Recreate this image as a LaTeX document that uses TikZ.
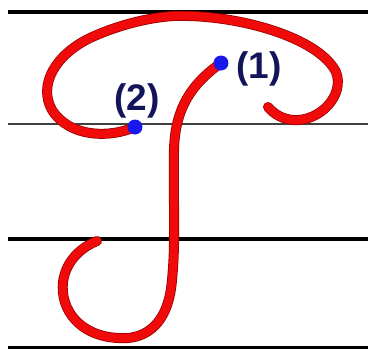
\documentclass[tikz,border=0pt]{standalone}
\usepackage{fontspec}
\setmainfont{Liberation Sans}
\usepackage{xcolor}
\definecolor{inkred}{RGB}{240,10,10}
\definecolor{inkedge}{RGB}{150,0,0}
\definecolor{dotblue}{RGB}{25,25,235}
\definecolor{labnavy}{RGB}{20,20,90}

\begin{document}
\begin{tikzpicture}[
	x=1pt, y=-1pt,
	guide/.style = {draw=black, line width=4.5pt},
	thin/.style  = {draw=black!75, line width=1.5pt},
	pen/.style   = {draw=inkred, line width=8.5pt, line cap=round,
	                preaction={draw=inkedge, line width=10pt, line cap=round}},
	dot/.style   = {circle, fill=dotblue, inner sep=0pt, minimum size=15pt},
	lab/.style   = {text=labnavy, font=\fontsize{37}{37}\selectfont\bfseries}
	]
	
	\useasboundingbox (0,0) rectangle (368,349);
	
	% === === Lines === ===
	\draw[guide]	(8,12)	--	(368,12);
	\draw[thin]		(8,124)	--	(368,124);
	\draw[guide]	(8,239)	--	(368,239);
	\draw[guide, line width=3pt]	(8,347)	--	(368,347);
	
	
	% === === Strokes === ===
	\coordinate	(s1)	at	(221, 63);
	\coordinate	(s2)	at	(135, 127);
	
	\draw[pen]	(s1)	.. controls (190,85) and (175,110) .. (174,150)
				.. controls (173,200) and (176,240) .. (172,280)
				.. controls (168,330) and (140,340) .. (118,338)
				.. controls (80,336) and (60,310) .. (63,282)
				.. controls (66,260) and (82,247) .. (97,241);
	
	\draw[pen]	(s2)	.. controls (110,138) and (70,138) .. (52,110)
				.. controls (38,85) and (55,55) .. (90,38)
				.. controls (120,24) and (160,14) .. (190,16)
				.. controls (250,18) and (320,40) .. (336,72)
				.. controls (345,95) and (320,122) .. (293,120)
				.. controls (282,119) and (274,114) .. (268,107);
	
	
	% === === Nodes === ===
	\node[dot]	(d1)	at	(s1)	{};
	\node[dot]	(d2)	at	(s2)	{};
	
	\node[lab]	(l1)	at	(259, 69)	{(1)};
	\node[lab]	(l2)	at	(137, 101)	{(2)};
	
\end{tikzpicture}
\end{document}
